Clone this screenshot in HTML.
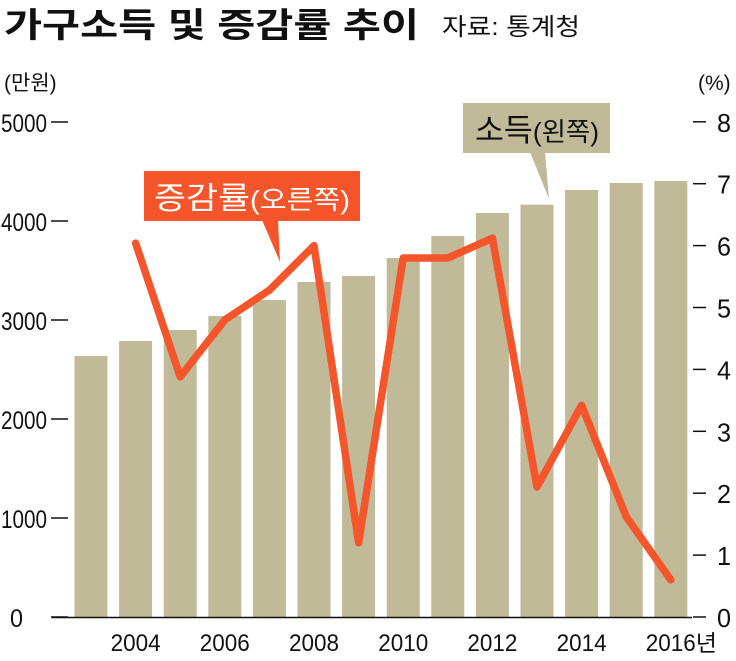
<!DOCTYPE html>
<html><head><meta charset="utf-8"><style>
body{margin:0;background:#fff;}
svg{display:block;font-family:"Liberation Sans","Noto Sans CJK KR",sans-serif;}
</style></head><body>
<svg id="chart" width="736" height="661" viewBox="0 0 736 661">
<text x="4" y="37" font-size="34" font-weight="bold" fill="#111" textLength="415" lengthAdjust="spacingAndGlyphs">가구소득 및 증감률 추이</text>
<text x="442" y="35" font-size="24" fill="#111" textLength="138" lengthAdjust="spacingAndGlyphs">자료: 통계청</text>
<text x="4" y="90" font-size="21" fill="#111">(만원)</text>
<text x="698" y="90" font-size="21" fill="#111">(%)</text>
<g id="bars"></g><g id="axes"></g><g id="line"></g>
<g>
<rect x="144" y="171" width="216" height="50" fill="#f4552b"/>
<polygon points="262,220 278,220 280,262" fill="#f4552b"/>
<text x="252" y="209" font-size="31" fill="#fff" text-anchor="middle" textLength="196" lengthAdjust="spacingAndGlyphs">증감률<tspan font-size="26">(오른쪽)</tspan></text>
</g>
<g>
<rect x="463" y="103" width="147" height="50" fill="#c0ba98"/>
<polygon points="530,152 545,152 549,199" fill="#c0ba98"/>
<text x="537" y="141" font-size="31" fill="#111" text-anchor="middle" textLength="124" lengthAdjust="spacingAndGlyphs">소득<tspan font-size="26">(왼쪽)</tspan></text>
</g>
</svg>
<script>
const years=[2003,2004,2005,2006,2007,2008,2009,2010,2011,2012,2013,2014,2015,2016];
const income=[2636,2788,2899,3040,3202,3384,3444,3626,3848,4081,4165,4313,4384,4404];
const rateYears=[2004,2005,2006,2007,2008,2009,2010,2011,2012,2013,2014,2015,2016];
const rate=[6.04,3.88,4.8,5.28,6.0,1.2,5.8,5.8,6.12,2.1,3.42,1.62,0.6];
const leftTicks=[0,1000,2000,3000,4000,5000];
const rightTicks=[0,1,2,3,4,5,6,7,8];
const xLabels=[2004,2006,2008,2010,2012,2014,2016];
const NS="http://www.w3.org/2000/svg";
const x=y=>91+(y-2003)*44.6;
const yL=v=>617-v*0.099;
const yR=v=>617-v*61.9;
function mk(t,a,p){const e=document.createElementNS(NS,t);for(const k in a)e.setAttribute(k,a[k]);p.appendChild(e);return e;}
const bars=document.getElementById('bars'),axes=document.getElementById('axes'),line=document.getElementById('line');
years.forEach((yr,i)=>{const r=mk('rect',{x:x(yr)-16.5,y:yL(income[i]),width:33,height:617-yL(income[i]),fill:'#c0ba98'},bars);

});
leftTicks.forEach(v=>{const t=mk('text',{x:v==0?10:1,y:yL(v)+10,'font-size':25,fill:'#111','textLength':v==0?13:46,'lengthAdjust':'spacingAndGlyphs'},axes);t.textContent=v;


mk('line',{x1:51,x2:68,y1:yL(v),y2:yL(v),stroke:'#111','stroke-width':1.5},axes);});
rightTicks.forEach(v=>{const t=mk('text',{x:717,y:yR(v)+10,'font-size':26,fill:'#111','textLength':14,'lengthAdjust':'spacingAndGlyphs'},axes);t.textContent=v;


mk('line',{x1:693,x2:706,y1:yR(v),y2:yR(v),stroke:'#111','stroke-width':1.5},axes);});
mk('line',{x1:52,x2:692,y1:617.5,y2:617.5,stroke:'#111','stroke-width':1.5},axes);
xLabels.forEach(v=>{const t=mk('text',{x:x(v),y:651,'font-size':24,fill:'#111','text-anchor':'middle','textLength':50,'lengthAdjust':'spacingAndGlyphs'},axes);t.textContent=v;

});
const nyeon=mk('text',{x:x(2016)+25,y:651,'font-size':23,fill:'#111'},axes);nyeon.textContent='년';


const pl=mk('polyline',{points:rateYears.map((yr,i)=>x(yr)+','+yR(rate[i])).join(' '),fill:'none',stroke:'#f4552b','stroke-width':7.5,'stroke-linejoin':'round','stroke-linecap':'round'},line);


</script>
</body></html>
